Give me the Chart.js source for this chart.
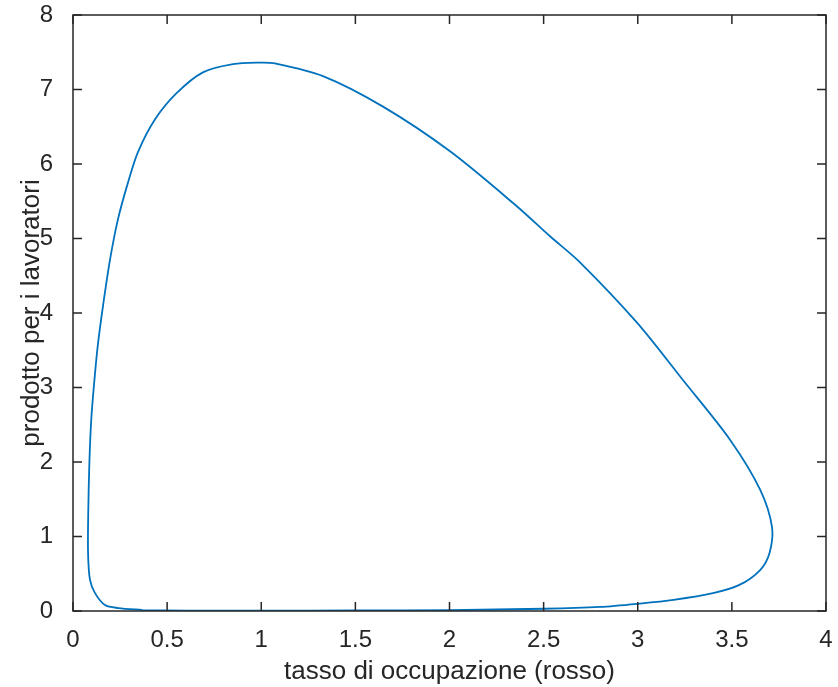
<!DOCTYPE html>
<html>
<head>
<meta charset="utf-8">
<script src="https://cdn.jsdelivr.net/npm/chart.js@4/dist/chart.umd.min.js"></script>
<style>
  html, body { margin: 0; padding: 0; background: #fff; }
  #wrap { width: 838px; height: 687px; }
</style>
</head>
<body>
<div id="wrap"><canvas id="myChart" width="838" height="687"></canvas></div>
<script>
// orbit: occupation rate (x) vs product per worker (y)
const occupazione = [0.37, 0.6, 1.0, 1.5, 2.0, 2.5, 2.8, 3.01, 3.19, 3.40, 3.54, 3.65, 3.70, 3.713, 3.65, 3.49,
  3.24, 2.996, 2.693, 2.534, 2.359, 2.003, 1.647, 1.328, 1.073, 0.99, 0.85, 0.69, 0.55, 0.436, 0.345, 0.292,
  0.239, 0.197, 0.159, 0.131, 0.112, 0.097, 0.087, 0.081, 0.08, 0.09, 0.117, 0.17, 0.24, 0.37];
const prodotto = [0.013, 0.006, 0.004, 0.007, 0.013, 0.03, 0.055, 0.10, 0.15, 0.24, 0.35, 0.55, 0.78, 1.13, 1.63, 2.30,
  3.10, 3.87, 4.68, 5.03, 5.43, 6.17, 6.77, 7.18, 7.35, 7.36, 7.34, 7.23, 6.95, 6.60, 6.16, 5.75,
  5.26, 4.72, 4.09, 3.55, 3.05, 2.57, 1.99, 1.32, 0.78, 0.42, 0.24, 0.08, 0.04, 0.013];
const xTicks = [0, 0.5, 1, 1.5, 2, 2.5, 3, 3.5, 4];
const yTicks = [0, 1, 2, 3, 4, 5, 6, 7, 8];

const axisColor = '#262626';
const tickFont = { family: 'Liberation Sans, Arial, Helvetica, sans-serif', size: 24 };
const titleFont = { family: 'Liberation Sans, Arial, Helvetica, sans-serif', size: 26 };

// MATLAB-like box with inward ticks
const boxTicks = {
  id: 'boxTicks',
  afterDraw(chart) {
    const c = chart.ctx, a = chart.chartArea;
    const xs = chart.scales.x, ys = chart.scales.y;
    const len = 9;
    c.save();
    c.strokeStyle = axisColor;
    c.lineWidth = 1.5;
    c.strokeRect(a.left, a.top, a.right - a.left, a.bottom - a.top);
    c.beginPath();
    xTicks.forEach(v => {
      const px = xs.getPixelForValue(v);
      c.moveTo(px, a.bottom); c.lineTo(px, a.bottom - len);
      c.moveTo(px, a.top); c.lineTo(px, a.top + len);
    });
    yTicks.forEach(v => {
      const py = ys.getPixelForValue(v);
      c.moveTo(a.left, py); c.lineTo(a.left + len, py);
      c.moveTo(a.right, py); c.lineTo(a.right - len, py);
    });
    c.stroke();
    c.restore();
  }
};

let ctx = document.getElementById('myChart').getContext('2d');
let myChart = new Chart(ctx, {
  type: 'scatter',
  data: {
    datasets: [{
      data: occupazione.map((x, i) => ({ x: x, y: prodotto[i] })),
      showLine: true,
      fill: false,
      borderColor: '#0072BD',
      borderWidth: 1.8,
      pointRadius: 0,
      tension: 0.3
    }]
  },
  options: {
    responsive: false,
    animation: false,
    layout: { padding: { top: 15, right: 12, left: 0, bottom: 0 } },
    plugins: { legend: { display: false }, tooltip: { enabled: false } },
    scales: {
      x: {
        type: 'linear', min: 0, max: 4,
        afterBuildTicks: s => { s.ticks = xTicks.map(v => ({ value: v })); },
        afterFit: s => { s.height = 76; s.paddingLeft = 0; s.paddingRight = 0; },
        grid: { display: false },
        border: { display: false },
        ticks: { color: axisColor, font: tickFont, padding: 7, maxRotation: 0, callback: v => String(v) },
        title: { display: true, text: 'tasso di occupazione (rosso)', color: axisColor, font: titleFont, padding: { top: 1, bottom: 0 } }
      },
      y: {
        type: 'linear', min: 0, max: 8,
        afterBuildTicks: s => { s.ticks = yTicks.map(v => ({ value: v })); },
        afterFit: s => { s.width = 73; s.paddingTop = 0; s.paddingBottom = 0; },
        grid: { display: false },
        border: { display: false },
        ticks: { color: axisColor, font: tickFont, padding: 12, callback: v => String(v) },
        title: { display: true, text: 'prodotto per i lavoratori', color: axisColor, font: titleFont, padding: { top: 16, bottom: 0 } }
      }
    }
  },
  plugins: [boxTicks]
});
</script>
</body>
</html>
